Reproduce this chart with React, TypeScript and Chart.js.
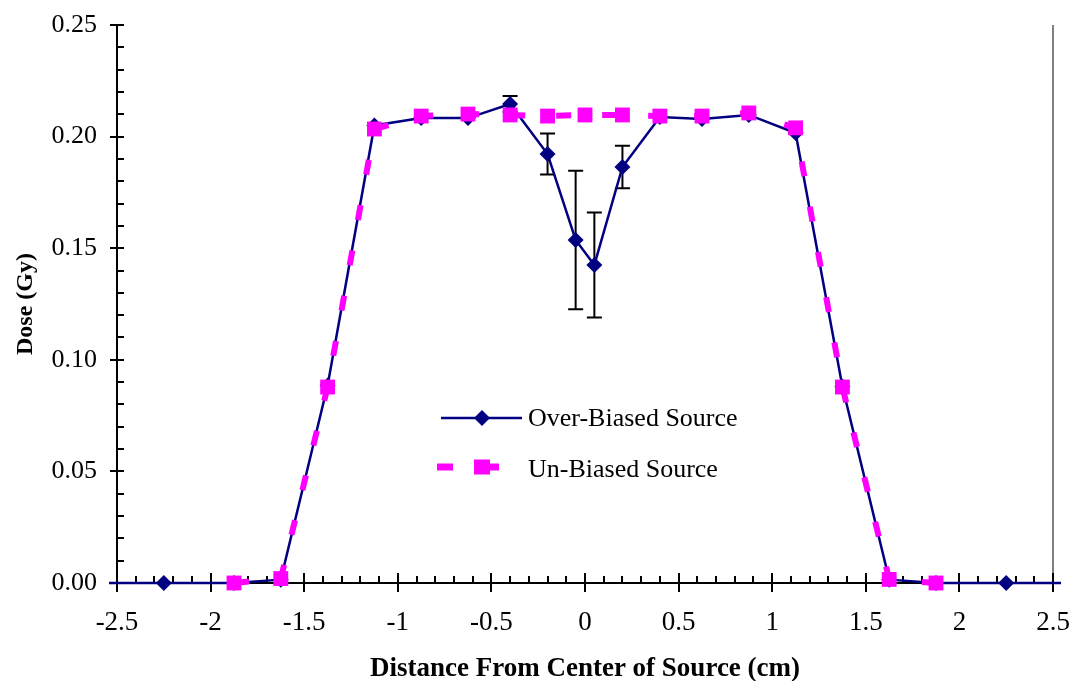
import React, { useEffect, useRef } from "react";
import { Chart, registerables } from "chart.js";

Chart.register(...registerables);

// Over-biased source (diamonds) — x positions (cm) and dose (Gy)
const overX = [-2.75, -2.25, -1.875, -1.625, -1.375, -1.125, -0.875, -0.625, -0.4, -0.2, -0.05, 0.05, 0.2, 0.4, 0.625, 0.875, 1.125, 1.375, 1.625, 1.875, 2.25, 2.75];
const overY = [0, 0, 0, 0.0015, 0.0885, 0.205, 0.2083, 0.2083, 0.2146, 0.1922, 0.1537, 0.1425, 0.1864, 0.2088, 0.2079, 0.2097, 0.2016, 0.088, 0.0015, 0, 0, 0];
// symmetric error bar half-widths (Gy) for the over-biased series
const overErr = [null, null, null, null, null, null, null, null, 0.0036, 0.0092, 0.031, 0.0235, 0.0095, null, null, null, null, null, null, null, null, null];

// Un-biased source (squares)
const unX = [-1.875, -1.625, -1.375, -1.125, -0.875, -0.625, -0.4, -0.2, 0, 0.2, 0.4, 0.625, 0.875, 1.125, 1.375, 1.625, 1.875];
const unY = [0, 0.002, 0.0878, 0.2034, 0.2092, 0.2101, 0.2097, 0.2092, 0.2097, 0.2097, 0.2092, 0.2092, 0.2106, 0.2039, 0.0878, 0.0016, 0];

const xTickValues = [-2.5, -2, -1.5, -1, -0.5, 0, 0.5, 1, 1.5, 2, 2.5];
const xTickLabels = ["-2.5", "-2", "-1.5", "-1", "-0.5", "0", "0.5", "1", "1.5", "2", "2.5"];
const yTickValues = [0, 0.05, 0.1, 0.15, 0.2, 0.25];
const yTickLabels = ["0.00", "0.05", "0.10", "0.15", "0.20", "0.25"];

const seriesNames = ["Over-Biased Source", "Un-Biased Source"];
const NAVY = "#000080";
const MAGENTA = "#FF00FF";
const FONT = "'Liberation Serif', 'Times New Roman', serif";

const axesPlugin = {
  id: "excelAxes",
  beforeDatasetsDraw(chart: any) {
    const { ctx, chartArea, scales } = chart;
    const xs = scales.x;
    const ys = scales.y;
    ctx.save();
    // right border (gray)
    ctx.strokeStyle = "#808080";
    ctx.lineWidth = 2;
    ctx.beginPath();
    ctx.moveTo(chartArea.right, chartArea.top);
    ctx.lineTo(chartArea.right, chartArea.bottom);
    ctx.stroke();

    ctx.strokeStyle = "#000";
    ctx.lineWidth = 2;
    ctx.beginPath();
    ctx.moveTo(chartArea.left, chartArea.top);
    ctx.lineTo(chartArea.left, chartArea.bottom + 1);
    ctx.moveTo(chartArea.left - 1, chartArea.bottom);
    ctx.lineTo(chartArea.right, chartArea.bottom);
    // y ticks
    for (let i = 0; i <= 25; i++) {
      const py = Math.round(ys.getPixelForValue(i / 100));
      const major = i % 5 === 0;
      ctx.moveTo(chartArea.left - (major ? 7 : 0), py);
      ctx.lineTo(chartArea.left + 7, py);
    }
    // x ticks
    for (let i = -25; i <= 25; i++) {
      const px = Math.round(xs.getPixelForValue(i / 10));
      const major = i % 5 === 0;
      ctx.moveTo(px, chartArea.bottom + (major ? 9 : 0));
      ctx.lineTo(px, chartArea.bottom - (major ? 10 : 7));
    }
    ctx.stroke();

    // error bars
    ctx.lineWidth = 2;
    ctx.strokeStyle = "#000";
    ctx.beginPath();
    overX.forEach((xv, i) => {
      const e = overErr[i];
      if (e == null) return;
      const px = xs.getPixelForValue(xv);
      const top = ys.getPixelForValue(overY[i] + e);
      const bot = ys.getPixelForValue(overY[i] - e);
      ctx.moveTo(px, top);
      ctx.lineTo(px, bot);
      ctx.moveTo(px - 7.5, top);
      ctx.lineTo(px + 7.5, top);
      ctx.moveTo(px - 7.5, bot);
      ctx.lineTo(px + 7.5, bot);
    });
    ctx.stroke();
    ctx.restore();
  },
  afterDraw(chart: any) {
    const { ctx } = chart;
    ctx.save();
    // legend
    const ly1 = 418;
    const ly2 = 467;
    ctx.strokeStyle = NAVY;
    ctx.lineWidth = 2.5;
    ctx.beginPath();
    ctx.moveTo(441, ly1);
    ctx.lineTo(522, ly1);
    ctx.stroke();
    ctx.fillStyle = NAVY;
    ctx.beginPath();
    ctx.moveTo(482, ly1 - 8);
    ctx.lineTo(490, ly1);
    ctx.lineTo(482, ly1 + 8);
    ctx.lineTo(474, ly1);
    ctx.closePath();
    ctx.fill();

    ctx.fillStyle = MAGENTA;
    ctx.fillRect(437, ly2 - 3.5, 16, 7);
    ctx.fillRect(490, ly2 - 3.5, 9, 7);
    ctx.fillRect(474, ly2 - 7.5, 16, 15);

    ctx.fillStyle = "#000";
    ctx.font = `26px ${FONT}`;
    ctx.textAlign = "left";
    ctx.textBaseline = "middle";
    ctx.fillText(seriesNames[0], 528, ly1 + 1);
    ctx.fillText(seriesNames[1], 528, ly2 + 3);
    ctx.restore();
  },
};

export default function App() {
  const ref = useRef<HTMLCanvasElement | null>(null);
  useEffect(() => {
    if (!ref.current) return;
    const chart = new Chart(ref.current, {
      type: "scatter",
      data: {
        datasets: [
          {
            label: seriesNames[1],
            data: unX.map((x, i) => ({ x, y: unY[i] })),
            showLine: true,
            borderColor: MAGENTA,
            backgroundColor: MAGENTA,
            borderWidth: 6,
            borderDash: [15, 31],
            borderCapStyle: "butt",
            pointStyle: "rect",
            pointRadius: 10.5,
            pointBorderWidth: 0,
            pointBackgroundColor: MAGENTA,
            tension: 0,
            order: 0,
            clip: { left: 8, right: 8, top: false, bottom: false } as any,
          },
          {
            label: seriesNames[0],
            data: overX.map((x, i) => ({ x, y: overY[i] })),
            showLine: true,
            borderColor: NAVY,
            backgroundColor: NAVY,
            borderWidth: 2.5,
            pointStyle: "rectRot",
            pointRadius: 8,
            pointBorderWidth: 0,
            pointBackgroundColor: NAVY,
            tension: 0,
            order: 1,
            clip: { left: 8, right: 8, top: false, bottom: false } as any,
          },
        ],
      },
      options: {
        responsive: false,
        animation: false,
        layout: { padding: { left: 0, right: 18, top: 25, bottom: 0 } },
        plugins: {
          legend: { display: false },
          tooltip: { enabled: false },
        },
        scales: {
          x: {
            type: "linear",
            min: -2.5,
            max: 2.5,
            afterBuildTicks: (s: any) => {
              s.ticks = xTickValues.map((v) => ({ value: v }));
            },
            afterFit: (s: any) => {
              s.height = 98;
              s.paddingLeft = 0;
              s.paddingRight = 0;
            },
            grid: { display: false, drawTicks: false, tickLength: 0 },
            border: { display: false },
            ticks: {
              color: "#000",
              font: { family: FONT, size: 27 },
              padding: 24,
              maxRotation: 0,
              autoSkip: false,
              callback: (_v: any, i: number) => xTickLabels[i],
            },
            title: {
              display: true,
              text: "Distance From Center of Source (cm)",
              color: "#000",
              font: { family: FONT, size: 27, weight: "bold", lineHeight: 0.9 },
              padding: { top: 0, bottom: 0 },
            },
          },
          y: {
            type: "linear",
            min: 0,
            max: 0.25,
            afterBuildTicks: (s: any) => {
              s.ticks = yTickValues.map((v) => ({ value: v }));
            },
            afterFit: (s: any) => {
              s.width = 117;
              s.paddingTop = 0;
              s.paddingBottom = 0;
            },
            grid: { display: false, drawTicks: false, tickLength: 0 },
            border: { display: false },
            ticks: {
              color: "#000",
              font: { family: FONT, size: 26 },
              padding: 20,
              autoSkip: false,
              callback: (_v: any, i: number) => yTickLabels[i],
            },
            title: {
              display: true,
              text: "Dose (Gy)",
              color: "#000",
              font: { family: FONT, size: 24, weight: "bold" },
              padding: { top: 11, bottom: 0 },
            },
          },
        },
      },
      plugins: [axesPlugin],
    });
    return () => chart.destroy();
  }, []);
  return (
    <div style={{ position: "fixed", left: 0, top: 0, width: 1071, height: 681, background: "#fff" }}>
      <canvas ref={ref} width={1071} height={681} style={{ display: "block" }} />
    </div>
  );
}
